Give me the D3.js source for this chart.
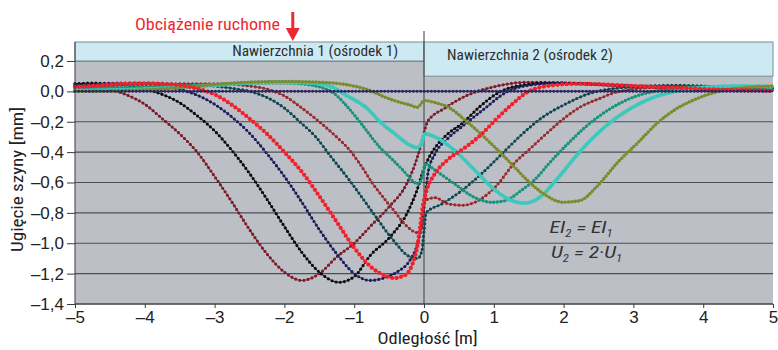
<!DOCTYPE html>
<html>
<head>
<meta charset="utf-8">
<script src="https://cdn.jsdelivr.net/npm/d3@7"></script>
<style>
  body { margin: 0; background: #fff; }
  svg { display: block; font-family: "Liberation Sans Narrow", "Roboto Condensed", "DejaVu Sans Condensed", Roboto, "Liberation Sans", sans-serif; }
</style>
</head>
<body>
<svg id="chart"></svg>
<script>
"use strict";

const WIDTH = 778
const HEIGHT = 350

// tick values / labels
const xTicks = [-5, -4, -3, -2, -1, 0, 1, 2, 3, 4, 5]
const yTicks = [0.2, 0.0, -0.2, -0.4, -0.6, -0.8, -1.0, -1.2, -1.4]

// deflection lines, [x (m), w (mm)]
const curveMaroon = [[-5,0.05],[-4.75,0.037],[-4.5,0.014],[-4.25,-0.025],[-4,-0.085],[-3.75,-0.18],[-3.5,-0.28],[-3.25,-0.40],[-3,-0.56],[-2.75,-0.73],[-2.5,-0.91],[-2.25,-1.07],[-2,-1.19],[-1.75,-1.245],[-1.5,-1.2],[-1.25,-1.09],[-1,-1.0],[-0.75,-0.88],[-0.5,-0.76],[-0.25,-0.61],[-0.1,-0.44],[-0.03,-0.33],[0.05,-0.2],[0.3,-0.11],[0.6,-0.03],[1,0.03],[1.5,0.06],[2,0.055],[2.5,0.045],[3,0.03],[3.5,0.02],[4,0.012],[5,0.005]]
const curveBlack = [[-5,0.05],[-4.75,0.054],[-4.5,0.05],[-4.25,0.038],[-4,0.015],[-3.75,-0.02],[-3.5,-0.075],[-3.25,-0.16],[-3,-0.26],[-2.75,-0.39],[-2.5,-0.54],[-2.25,-0.71],[-2,-0.89],[-1.75,-1.06],[-1.5,-1.19],[-1.22,-1.257],[-1,-1.22],[-0.77,-1.08],[-0.49,-0.96],[-0.24,-0.8],[-0.1,-0.65],[-0.01,-0.52],[0.09,-0.42],[0.16,-0.37],[0.34,-0.28],[0.55,-0.21],[0.8,-0.1],[1.1,0],[1.4,0.04],[1.8,0.055],[2.3,0.05],[3,0.035],[4,0.015],[5,0.005]]
const curveNavy = [[-5,0.04],[-4.75,0.047],[-4.5,0.053],[-4.25,0.054],[-4,0.05],[-3.75,0.037],[-3.5,0.013],[-3.25,-0.025],[-3,-0.085],[-2.75,-0.17],[-2.5,-0.275],[-2.25,-0.41],[-2,-0.56],[-1.75,-0.73],[-1.5,-0.91],[-1.25,-1.07],[-1,-1.2],[-0.77,-1.245],[-0.55,-1.225],[-0.39,-1.19],[-0.2,-1.11],[-0.09,-1.0],[-0.03,-0.87],[0.02,-0.68],[0.06,-0.53],[0.16,-0.41],[0.34,-0.31],[0.55,-0.23],[0.85,-0.12],[1.2,0],[1.5,0.04],[1.9,0.055],[2.5,0.045],[3.2,0.03],[4,0.015],[5,0.005]]
const curveRed = [[-5,0.03],[-4.75,0.035],[-4.5,0.045],[-4.25,0.05],[-4,0.053],[-3.75,0.05],[-3.5,0.04],[-3.25,0.018],[-3,-0.02],[-2.75,-0.09],[-2.5,-0.18],[-2.25,-0.28],[-2,-0.40],[-1.75,-0.53],[-1.5,-0.69],[-1.25,-0.86],[-1,-1.03],[-0.75,-1.16],[-0.55,-1.215],[-0.42,-1.23],[-0.3,-1.215],[-0.24,-1.2],[-0.16,-1.13],[-0.1,-1.03],[-0.06,-0.91],[-0.01,-0.74],[0.04,-0.65],[0.16,-0.54],[0.34,-0.45],[0.59,-0.37],[0.83,-0.28],[1.02,-0.19],[1.25,-0.09],[1.5,0],[1.85,0.04],[2.25,0.05],[2.8,0.04],[3.5,0.025],[4.2,0.012],[5,0.005]]
const curveDarkTeal = [[-5,0.035],[-4.5,0.045],[-4,0.05],[-3.5,0.048],[-3,0.035],[-2.75,0.02],[-2.5,0.0],[-2.25,-0.04],[-2,-0.11],[-1.78,-0.2],[-1.55,-0.3],[-1.35,-0.42],[-1.06,-0.59],[-0.73,-0.8],[-0.44,-0.98],[-0.2,-1.09],[-0.09,-1.1],[-0.03,-1.05],[0,-0.92],[0.03,-0.8],[0.26,-0.74],[0.55,-0.65],[0.83,-0.54],[1.12,-0.41],[1.41,-0.28],[1.7,-0.17],[2,-0.09],[2.4,-0.01],[3,0.03],[3.6,0.04],[4.3,0.03],[5,0.02]]
const curveBrick = [[-5,0.025],[-4,0.045],[-3,0.05],[-2.5,0.035],[-2.25,0.015],[-2,-0.03],[-1.75,-0.11],[-1.5,-0.2],[-1.3,-0.28],[-1.06,-0.39],[-0.9,-0.49],[-0.73,-0.61],[-0.58,-0.7],[-0.44,-0.78],[-0.24,-0.89],[-0.1,-0.93],[-0.03,-0.9],[0.01,-0.72],[0.16,-0.7],[0.34,-0.74],[0.55,-0.75],[0.73,-0.73],[1.02,-0.63],[1.3,-0.47],[1.49,-0.39],[1.75,-0.28],[2,-0.18],[2.25,-0.1],[2.5,-0.05],[2.8,0],[3.5,0.03],[4.2,0.03],[5,0.02]]
const curveGreen = [[-5,0.015],[-4,0.03],[-3,0.045],[-2.5,0.055],[-2,0.055],[-1.68,0.045],[-1.5,0.03],[-1.3,-0.01],[-1.1,-0.1],[-0.92,-0.2],[-0.63,-0.37],[-0.45,-0.45],[-0.3,-0.52],[-0.16,-0.59],[-0.09,-0.61],[-0.03,-0.57],[0.02,-0.48],[0.16,-0.52],[0.44,-0.61],[0.73,-0.7],[0.97,-0.73],[1.16,-0.72],[1.4,-0.65],[1.59,-0.58],[1.8,-0.47],[2.05,-0.35],[2.3,-0.24],[2.55,-0.15],[2.8,-0.08],[3.05,-0.03],[3.3,0],[3.6,0.02],[4,0.03],[5,0.02]]
const curveTurquoise = [[-5,0.005],[-4,0.015],[-3,0.04],[-2.5,0.055],[-2,0.06],[-1.49,0.05],[-1.3,0.025],[-1.1,-0.03],[-0.82,-0.11],[-0.63,-0.2],[-0.39,-0.29],[-0.2,-0.355],[-0.1,-0.37],[-0.04,-0.35],[0.01,-0.28],[0.16,-0.3],[0.44,-0.39],[0.73,-0.52],[1.02,-0.65],[1.26,-0.72],[1.45,-0.735],[1.65,-0.7],[1.9,-0.58],[2.19,-0.42],[2.48,-0.28],[2.77,-0.17],[3.05,-0.09],[3.35,-0.03],[3.6,0],[4,0.025],[4.5,0.035],[5,0.03]]
const curveOlive = [[-5,0],[-4,0.01],[-3.5,0.025],[-3,0.045],[-2.5,0.06],[-2,0.065],[-1.5,0.06],[-1.06,0.04],[-0.8,0.01],[-0.6,-0.03],[-0.4,-0.065],[-0.2,-0.09],[-0.1,-0.105],[0.01,-0.06],[0.12,-0.07],[0.37,-0.11],[0.59,-0.19],[1.02,-0.37],[1.3,-0.5],[1.49,-0.59],[1.7,-0.67],[1.99,-0.73],[2.23,-0.72],[2.47,-0.63],[2.77,-0.47],[3.06,-0.34],[3.34,-0.21],[3.58,-0.125],[3.9,-0.05],[4.22,0],[4.6,0.025],[5,0.035]]
const curveZero = [[-5,0],[5,0]]

// draw order, colour, marker size, marker spacing
const series = [
    {data: curveMaroon, color: "#7a1c2a", dot: 3.2, gap: 4.2},
    {data: curveBlack, color: "#0c0c0c", dot: 3.2, gap: 4.2},
    {data: curveNavy, color: "#1e1d5c", dot: 3.2, gap: 4.2},
    {data: curveDarkTeal, color: "#0f4750", dot: 3.2, gap: 4.2},
    {data: curveBrick, color: "#982a2c", dot: 3.2, gap: 4.2},
    {data: curveGreen, color: "#16937a", dot: 3.4, gap: 3.6},
    {data: curveTurquoise, color: "#3cc9bc", dot: 4, gap: 2.4},
    {data: curveOlive, color: "#7e8a2e", dot: 3.6, gap: 3.4},
    {data: curveRed, color: "#f2202c", dot: 4.3, gap: 4.6},
    {data: curveZero, color: "#2c2560", dot: 3, gap: 3.6},
]

const fmt = v => (Math.abs(v) < 1e-9 ? "0,0" : v.toFixed(1).replace(".", ",").replace("-", "\u2013"))
const fmtX = v => String(v).replace("-", "\u2013")

const svg = d3.select("#chart")
    .attr("width", WIDTH)
    .attr("height", HEIGHT)

const x = d3.scaleLinear().domain([-5, 5]).range([75, 773])
const y = d3.scaleLinear().domain([-1.4, 0.325]).range([304, 42])

// plot background
svg.append("rect")
    .attr("x", x(-5)).attr("y", y(0.325))
    .attr("width", x(5) - x(-5)).attr("height", y(-1.4) - y(0.325))
    .attr("fill", "#bcc0c6")

// grid
svg.append("g")
    .selectAll("line")
    .data(yTicks)
    .join("line")
    .attr("x1", x(-5)).attr("x2", x(5))
    .attr("y1", d => y(d)).attr("y2", d => y(d))
    .attr("stroke", "#4c4f52")
    .attr("stroke-width", 1.1)

// surface bands
svg.append("rect")
    .attr("x", x(-5)).attr("y", y(0.325))
    .attr("width", x(0) - x(-5)).attr("height", y(0.2) - y(0.325))
    .attr("fill", "#cdeaf4").attr("stroke", "#74908f").attr("stroke-width", 1)
svg.append("rect")
    .attr("x", x(0)).attr("y", y(0.325))
    .attr("width", x(5) - x(0)).attr("height", y(0.1) - y(0.325))
    .attr("fill", "#cdeaf4").attr("stroke", "#74908f").attr("stroke-width", 1)

svg.append("text")
    .attr("x", x(-0.37)).attr("y", y(0.23))
    .attr("text-anchor", "end")
    .attr("font-size", 15)
    .attr("fill", "#2e2e2e")
    .attr("textLength", 166).attr("lengthAdjust", "spacingAndGlyphs")
    .text("Nawierzchnia 1 (ośrodek 1)")
svg.append("text")
    .attr("x", x(0.33)).attr("y", y(0.205))
    .attr("font-size", 15)
    .attr("fill", "#2e2e2e")
    .attr("textLength", 166).attr("lengthAdjust", "spacingAndGlyphs")
    .text("Nawierzchnia 2 (ośrodek 2)")

// boundary between the two tracks
svg.append("line")
    .attr("x1", x(0)).attr("x2", x(0))
    .attr("y1", 31).attr("y2", y(-1.4))
    .attr("stroke", "#3a3a3a").attr("stroke-width", 1)

// curves: thin line + dense markers
const line = d3.line()
    .x(d => x(d[0]))
    .y(d => y(d[1]))
    .curve(d3.curveMonotoneX)

const curves = svg.append("g")
series.forEach(s => {
    curves.append("path")
        .attr("d", line(s.data))
        .attr("fill", "none")
        .attr("stroke", s.color)
        .attr("stroke-width", 1)
    curves.append("path")
        .attr("d", line(s.data))
        .attr("fill", "none")
        .attr("stroke", s.color)
        .attr("stroke-width", s.dot)
        .attr("stroke-linecap", "round")
        .attr("stroke-dasharray", `0 ${s.gap}`)
})

// axes
const yAxis = svg.append("g")
    .attr("transform", `translate(${x(-5)},0)`)
    .call(d3.axisLeft(y).tickValues(yTicks).tickSize(8).tickPadding(3).tickFormat(fmt))
yAxis.select(".domain").attr("stroke", "#3a3a3a").attr("d", `M0,${y(0.325)}V${y(-1.4)}`)
yAxis.selectAll(".tick line").attr("stroke", "#3a3a3a")
yAxis.selectAll("text").attr("font-size", 17).attr("fill", "#222")

const xAxis = svg.append("g")
    .attr("transform", `translate(0,${y(-1.4)})`)
    .call(d3.axisBottom(x).tickValues(xTicks).tickSize(4).tickPadding(3).tickFormat(fmtX))
xAxis.select(".domain").attr("stroke", "#3a3a3a").attr("d", `M${x(-5)},0H${x(5)}`)
xAxis.selectAll(".tick line").attr("stroke", "#3a3a3a")
xAxis.selectAll("text").attr("font-size", 17).attr("fill", "#222")

// axis titles
svg.append("text")
    .attr("transform", `translate(23,${y(-0.58)}) rotate(-90)`)
    .attr("text-anchor", "middle")
    .attr("font-size", 16)
    .attr("fill", "#222")
    .attr("textLength", 145).attr("lengthAdjust", "spacingAndGlyphs")
    .text("Ugięcie szyny [mm]")
svg.append("text")
    .attr("x", x(0.05)).attr("y", 344)
    .attr("text-anchor", "middle")
    .attr("font-size", 16)
    .attr("fill", "#222")
    .attr("textLength", 100).attr("lengthAdjust", "spacingAndGlyphs")
    .text("Odległość [m]")

// moving load label + arrow
svg.append("text")
    .attr("x", x(-4.14)).attr("y", 30)
    .attr("font-size", 17)
    .attr("fill", "#ee2a30")
    .attr("textLength", 145).attr("lengthAdjust", "spacingAndGlyphs")
    .text("Obciążenie ruchome")
const ax = x(-1.88)
svg.append("line")
    .attr("x1", ax).attr("x2", ax)
    .attr("y1", 12).attr("y2", 31)
    .attr("stroke", "#ee2a30").attr("stroke-width", 3)
svg.append("path")
    .attr("d", `M${ax - 7},28L${ax + 7},28L${ax},41Z`)
    .attr("fill", "#ee2a30")

// parameter notes
const note1 = svg.append("text")
    .attr("x", x(1.8)).attr("y", y(-0.935))
    .attr("font-size", 17).attr("font-style", "italic").attr("fill", "#333")
    .attr("textLength", 63).attr("lengthAdjust", "spacingAndGlyphs")
note1.append("tspan").text("EI")
note1.append("tspan").attr("font-size", 10).attr("dy", 4).text("2")
note1.append("tspan").attr("dy", -4).text(" = EI")
note1.append("tspan").attr("font-size", 10).attr("dy", 4).text("1")

const note2 = svg.append("text")
    .attr("x", x(1.82)).attr("y", y(-1.095))
    .attr("font-size", 17).attr("font-style", "italic").attr("fill", "#333")
    .attr("textLength", 71).attr("lengthAdjust", "spacingAndGlyphs")
note2.append("tspan").text("U")
note2.append("tspan").attr("font-size", 10).attr("dy", 4).text("2")
note2.append("tspan").attr("dy", -4).text(" = 2·U")
note2.append("tspan").attr("font-size", 10).attr("dy", 4).text("1")
</script>
</body>
</html>
